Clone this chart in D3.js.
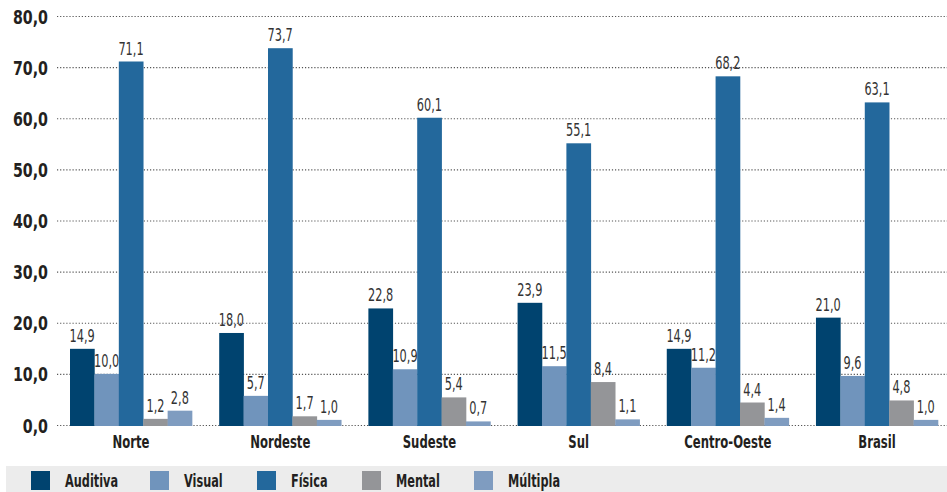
<!DOCTYPE html>
<html><head><meta charset="utf-8">
<script src="https://cdn.jsdelivr.net/npm/d3@7"></script>
<style>
body{margin:0;background:#fff;}
text{font-family:"DejaVu Sans Condensed","DejaVu Sans",sans-serif;}
</style></head>
<body><svg id="c" width="947" height="492"></svg>
<script>
const categories = ["Norte","Nordeste","Sudeste","Sul","Centro-Oeste","Brasil"];
const seriesNames = ["Auditiva","Visual","Física","Mental","Múltipla"];
const auditiva = [14.9,18.0,22.8,23.9,14.9,21.0];
const visual   = [10.0,5.7,10.9,11.5,11.2,9.6];
const fisica   = [71.1,73.7,60.1,55.1,68.2,63.1];
const mental   = [1.2,1.7,5.4,8.4,4.4,4.8];
const multipla = [2.8,1.0,0.7,1.1,1.4,1.0];
const yTicks = [0,10,20,30,40,50,60,70,80];
const colors = ["#00436f","#7094bc","#23689c","#949598","#7f9cc0"];

const seriesValues = [auditiva,visual,fisica,mental,multipla];
const svg = d3.select("#c");
const fmt = v => v.toFixed(1).replace(".", ",");

// condensed text helper
function ctext(parent, x, y, str, opts){
  const g = parent.append("g").attr("transform",`translate(${x},${y}) scale(${opts.sx},1)`);
  return g.append("text").attr("x",0).attr("y",0)
    .attr("text-anchor",opts.anchor||"start")
    .attr("font-weight",opts.weight||"normal")
    .attr("font-size",opts.size).attr("fill",opts.fill||"#231f20").text(str);
}

const y = d3.scaleLinear().domain([0,80]).range([425,16]);
const x0 = d3.scaleBand().domain(categories).range([70,938]).paddingInner(0.182).paddingOuter(0);
const x1 = d3.scaleBand().domain(seriesNames).range([0,x0.bandwidth()]).padding(0);

// gridlines
svg.append("g").selectAll("line").data(yTicks).join("line")
  .attr("x1",57).attr("x2",947)
  .attr("y1",d=>y(d)+0.5).attr("y2",d=>y(d)+0.5)
  .attr("stroke","#555").attr("stroke-width",1.2).attr("stroke-dasharray","1.2,1.9");

// y labels
const yl = svg.append("g");
yTicks.forEach(t => ctext(yl, 48, y(t)+7.5, fmt(t), {sx:0.79, size:20, weight:"bold", anchor:"end"}));

// bars
const groups = svg.append("g").selectAll("g").data(categories).join("g")
  .attr("transform",c=>`translate(${x0(c)},0)`);
groups.each(function(c,ci){
  const g = d3.select(this);
  seriesNames.forEach((s,si)=>{
    const v = seriesValues[si][ci];
    g.append("rect").attr("x",x1(s)).attr("width",x1.bandwidth()+0.3)
      .attr("y",y(v)).attr("height",y(0)-y(v)+1).attr("fill",colors[si]);
    ctext(g, x1(s)+x1.bandwidth()/2, y(v)-7, fmt(v), {sx:0.7, size:18, fill:"#333", anchor:"middle"});
  });
});

// category labels
const cl = svg.append("g");
categories.forEach(c => ctext(cl, x0(c)+x0.bandwidth()/2, 448, c, {sx:0.72, size:18, weight:"bold", anchor:"middle"}));

// legend
svg.append("rect").attr("x",6).attr("y",466).attr("width",941).attr("height",26).attr("fill","#ececec");
const legSq = [31,150,257,362,474];
const legTx = [65,184,291,396,508];
const lg = svg.append("g");
seriesNames.forEach((s,i)=>{
  lg.append("rect").attr("x",legSq[i]).attr("y",471).attr("width",19).attr("height",19).attr("fill",colors[i]);
  ctext(lg, legTx[i], 487, s, {sx:0.68, size:18.5, weight:"bold"});
});
</script></body></html>
